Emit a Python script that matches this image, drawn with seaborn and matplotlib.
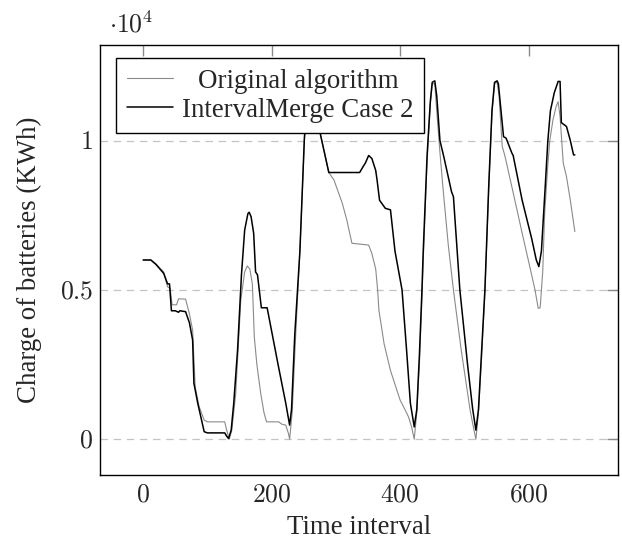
import numpy as np
import pandas as pd
import matplotlib
matplotlib.use('Agg')
import matplotlib.pyplot as plt
from matplotlib.ticker import FuncFormatter
import seaborn as sns

# --- data (time interval, charge in KWh) ---
orig_t = [0, 12, 20, 26, 32, 36, 38, 42, 45, 52, 55, 66, 72, 77, 81, 87, 95, 100, 127, 130,
          134, 138, 144, 152, 158, 162, 166, 170, 173, 177, 183, 188, 192, 211, 216, 222, 226, 228,
          232, 237, 244, 251, 257, 262, 267, 276, 289, 297, 310, 317, 325, 351, 356, 362, 365,
          367, 375, 385, 400, 408, 413, 418, 422, 426, 430, 434, 436, 442, 447, 450, 454, 457,
          462, 467, 475, 483, 495, 509, 515, 518, 522, 527, 532, 538, 543, 547, 551, 554, 559,
          563, 575, 590, 605, 610, 615, 618, 622, 625, 630, 633, 638, 643, 646, 649, 654, 659,
          665, 672]
orig_charge = [6000, 6000, 5870, 5730, 5600, 5250, 5100, 5050, 4500, 4500, 4700, 4690, 4200,
               3650, 1750, 1100, 640, 580, 580, 300, 0, 300, 1500, 4660, 5600, 5800, 5700, 5200,
               3430, 2500, 1530, 900, 580, 580, 500, 470, 200, 0, 900, 3300, 6300, 10000, 11600,
               11900, 11600, 10200, 8930, 8680, 7900, 7340, 6560, 6500, 6220, 5700, 5000, 4320,
               3200, 2300, 1310, 970, 750, 400, 0, 900, 2500, 4700, 6000, 9300, 11200, 11900,
               11900, 11000, 9600, 8350, 6500, 5000, 3000, 970, 300, 0, 900, 2800, 4900, 8400,
               10900, 11900, 11950, 11500, 9800, 9500, 8350, 6900, 5480, 5000, 4380, 4400, 5600,
               7560, 9200, 10000, 10700, 11150, 11300, 10800, 9240, 8790, 8000, 6950]

merge_t = [0, 12, 20, 26, 32, 38, 41, 44, 50, 55, 57, 66, 72, 77, 79, 85, 95, 100, 127, 130,
           133, 137, 141, 147, 153, 158, 163, 165, 168, 172, 175, 178, 184, 193, 210, 222, 228,
           231, 236, 244, 251, 257, 262, 267, 276, 289, 337, 343, 346, 351, 356, 362, 364, 368,
           377, 385, 392, 403, 410, 416, 422, 426, 430, 434, 436, 442, 447, 450, 454, 457, 462,
           468, 480, 483, 493, 505, 513, 518, 522, 527, 532, 538, 543, 547, 551, 553, 561, 565,
           574, 576, 590, 605, 612, 616, 620, 626, 630, 634, 640, 646, 649, 651, 656, 659, 665,
           670, 672]
merge_charge = [6000, 6000, 5850, 5700, 5550, 5200, 5200, 4300, 4300, 4250, 4300, 4270, 3900,
                3320, 1870, 1200, 250, 210, 210, 100, 20, 300, 1200, 3000, 5500, 7000, 7550,
                7600, 7450, 6900, 5600, 5500, 4400, 4400, 2500, 1200, 470, 1000, 3500, 6300,
                10100, 11700, 12000, 11700, 10200, 8930, 8930, 9150, 9250, 9500, 9400, 9000,
                8700, 8000, 7730, 7680, 6300, 5000, 3000, 1200, 410, 1000, 2800, 5000, 6300,
                9500, 11300, 11950, 12000, 11500, 10000, 9460, 8290, 8120, 5000, 2500, 1000, 300,
                1000, 3000, 5000, 8500, 11000, 11950, 12000, 11900, 10130, 10080, 9580, 9500,
                8000, 6700, 6000, 5780, 6300, 8500, 10000, 11000, 11600, 11980, 11980, 10600,
                10520, 10470, 10000, 9520, 9520]

series_names = ['Original algorithm', 'IntervalMerge Case 2']
x_ticks = [0, 200, 400, 600]
y_ticks = [0, 5000, 10000]

df_orig = pd.DataFrame({'t': orig_t, 'charge': orig_charge})
df_merge = pd.DataFrame({'t': merge_t, 'charge': merge_charge})

sns.set_style('white')
plt.rcParams['font.family'] = ['Liberation Serif', 'DejaVu Serif']
plt.rcParams['mathtext.fontset'] = 'cm'

fig = plt.figure(figsize=(6.22, 5.41), dpi=100)
ax = fig.add_axes([100 / 622, 66 / 541, 518 / 622, 430 / 541])

sns.lineplot(data=df_orig, x='t', y='charge', ax=ax, color='#8a8a8a', linewidth=0.8,
             estimator=None, label=series_names[0])
sns.lineplot(data=df_merge, x='t', y='charge', ax=ax, color='black', linewidth=1.1,
             estimator=None, label=series_names[1])

ax.set_xlim(-67.2, 739.2)
ax.set_ylim(-1200, 13200)
ax.set_xticks(x_ticks)
ax.set_yticks(y_ticks)
ax.xaxis.set_major_formatter(FuncFormatter(lambda v, p: f'${v:g}$'))
ax.yaxis.set_major_formatter(FuncFormatter(lambda v, p: f'${v / 1e4:g}$'))
ax.tick_params(axis='both', which='major', direction='in', length=8, width=1,
               color='#8a8a8a', labelsize=18.5, top=True, right=True)
ax.tick_params(axis='x', pad=7)
ax.tick_params(axis='y', pad=5)

for sp in ax.spines.values():
    sp.set_color('black')
    sp.set_linewidth(1.0)

ax.yaxis.grid(True, color='#c4c4c4', linestyle=(0, (6, 4.5)), linewidth=0.9)
ax.xaxis.grid(False)
ax.set_axisbelow(True)

ax.text(0.018, 1.028, r'$\cdot 10^4$', transform=ax.transAxes, fontsize=18.5,
        ha='left', va='baseline')

ax.set_xlabel('Time interval', fontsize=19.4, labelpad=6)
ax.set_ylabel('Charge of batteries (KWh)', fontsize=19.4, labelpad=13)

leg = ax.legend(loc='upper left', bbox_to_anchor=(0.031, 0.97), borderaxespad=0,
                fontsize=19.4, frameon=True, fancybox=False, framealpha=1,
                edgecolor='black', borderpad=0.4, labelspacing=0.15,
                handlelength=1.7, handletextpad=0.35)
leg.get_frame().set_linewidth(1.0)

# centre the legend texts in their column like the original
fig.canvas.draw()
renderer = fig.canvas.get_renderer()
widths = [t.get_window_extent(renderer).width for t in leg.get_texts()]
wmax = max(widths)
for t, w in zip(leg.get_texts(), widths):
    t.set_ha('left')
    t.set_position(((wmax - w) / 2, 0))

fig.savefig('out.png', dpi=100)
